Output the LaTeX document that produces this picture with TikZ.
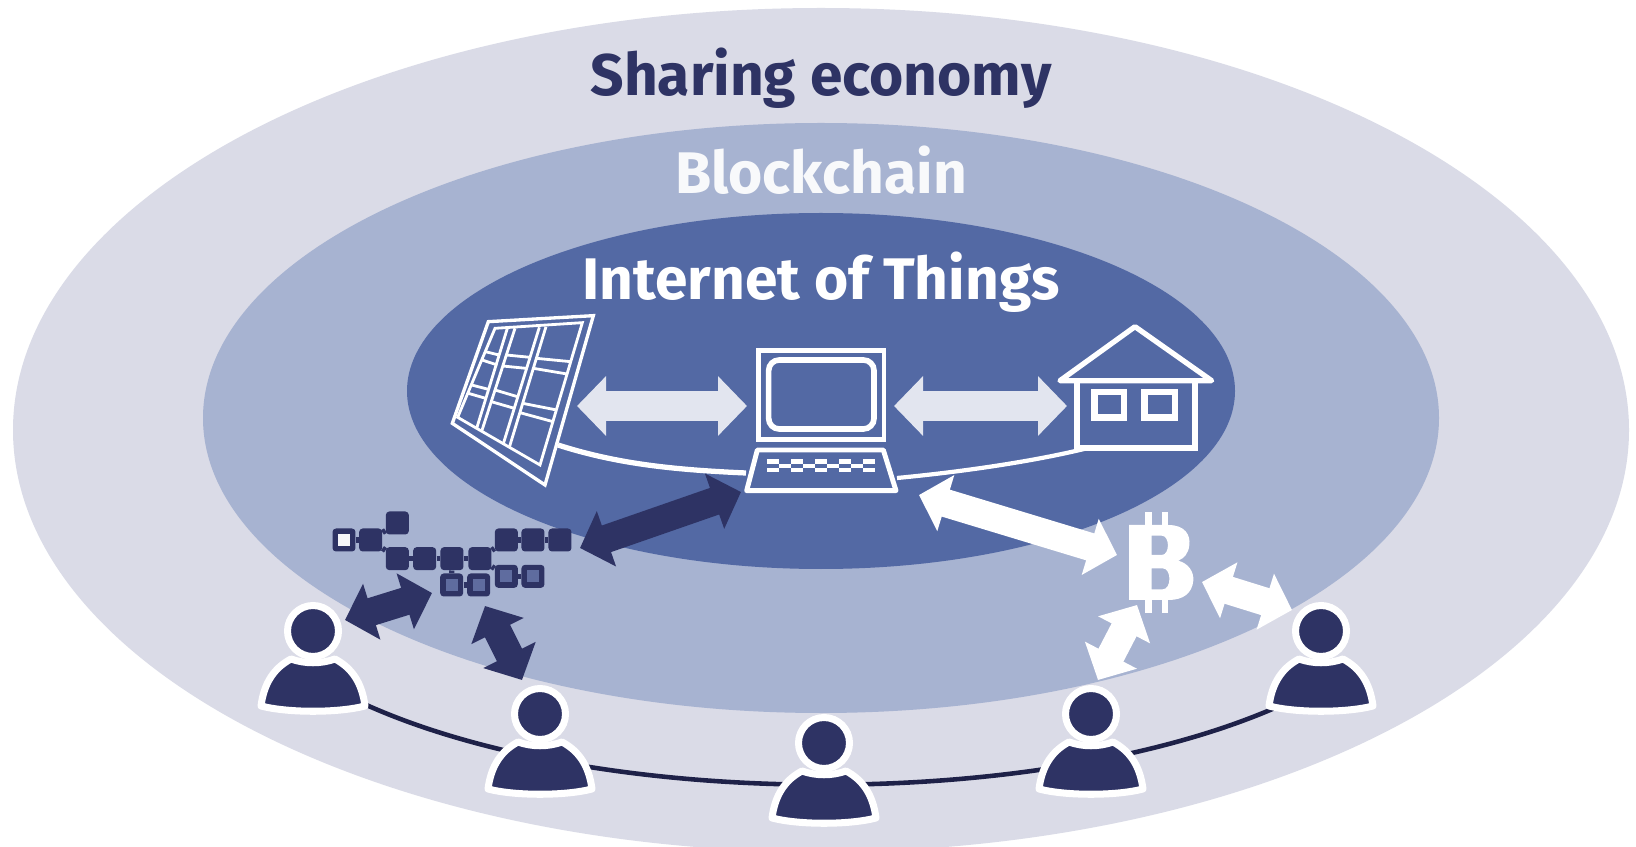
\documentclass[tikz,border=0pt]{standalone}
\usepackage{fontspec}
\setmainfont{Fira Sans}
\usetikzlibrary{arrows.meta}
\definecolor{outerc}{HTML}{DADBE7}
\definecolor{midc}{HTML}{A7B3D1}
\definecolor{innerc}{HTML}{5369A4}
\definecolor{navy}{HTML}{2E3364}
\definecolor{ringc}{HTML}{1E2148}
\definecolor{pale}{HTML}{E2E5EF}
\definecolor{corec}{HTML}{5F6C9F}
\tikzset{
  zoomed/.style={x=0.006667cm,y=-0.006667cm},
  title/.style={font=\fontsize{33.4}{36}\selectfont\bfseries,inner sep=0,anchor=base},
  wire/.style={draw=white,line width=2.4pt},
  cell/.style={draw=white,line width=1.6pt,line join=miter},
  pcline/.style={draw=white,line width=2.8pt,line join=miter},
  hsline/.style={draw=white,line width=3.6pt,line join=miter},
  bigarrow/.style={line width=17pt,draw=pale,
    {Triangle[length=0.58cm,width=1.16cm]}-{Triangle[length=0.58cm,width=1.16cm]}},
  darkarrow/.style={line width=16pt,draw=navy,
    {Triangle[length=0.56cm,width=1.14cm]}-{Triangle[length=0.56cm,width=1.14cm]}},
  whitearrow/.style={line width=16pt,draw=white,
    {Triangle[length=0.56cm,width=1.14cm]}-{Triangle[length=0.56cm,width=1.14cm]}},
  chainblock/.style={rectangle,rounded corners=2pt,fill=navy,inner sep=0,minimum width=0.46cm,minimum height=0.46cm},
  blockcore/.style={rectangle,inner sep=0,minimum size=0.24cm},
  chainlink/.style={draw=navy,line width=3pt},
  headdot/.style={circle,fill=navy,draw=white,line width=4pt,inner sep=0,minimum size=1.02cm},
  person/.pic={
    \draw[fill=navy,draw=white,line width=4pt,line join=round]
      (-52,75) .. controls (-49,52) and (-39,37) .. (-22,28)
      .. controls (-8,33) and (8,33) .. (22,28)
      .. controls (39,37) and (49,52) .. (52,75)
      .. controls (25,82) and (-25,82) .. (-52,75) -- cycle;
    \node[headdot] (-head) at (0,0) {};
  }
}
\begin{document}
\begin{tikzpicture}[x=0.02cm,y=-0.02cm]
\useasboundingbox (0,0) rectangle (1636,847);
\fill[white] (0,0) rectangle (1636,847);
\fill[outerc] (821,430) ellipse [x radius=808,y radius=422];
\fill[midc] (821,418) ellipse [x radius=618,y radius=295];
\fill[innerc] (821,391) ellipse [x radius=414,y radius=178];

\node[title,text=navy] (t1) at (821,96) {Sharing economy};
\node[title,text=white!92!midc] (t2) at (821,194) {Blockchain};
\node[title,text=white] (t3) at (821,300) {Internet of Things};

% anchors for connectors
\coordinate (panelWire) at (558,445);
\coordinate (pcWireL) at (746,473);
\coordinate (pcWireR) at (897,478);
\coordinate (houseWire) at (1084,449);
\coordinate (a1a) at (577,406); \coordinate (a1b) at (747,406);
\coordinate (a2a) at (894,406); \coordinate (a2b) at (1067,406);
\coordinate (a3a) at (580,548); \coordinate (a3b) at (741,492);
\coordinate (a4a) at (919,495); \coordinate (a4b) at (1117,555);
\coordinate (a5a) at (345,620); \coordinate (a5b) at (432,593);
\coordinate (a6a) at (485,606); \coordinate (a6b) at (522,680);
\coordinate (a7a) at (1137,605); \coordinate (a7b) at (1098,680);
\coordinate (a8a) at (1202,582); \coordinate (a8b) at (1292,610);
\coordinate (ringL) at (362,703);
\coordinate (ringR) at (1286,703);

\draw[wire,line width=3pt] (panelWire) .. controls (620,465) and (680,470) .. (pcWireL);
\draw[wire] (pcWireR) .. controls (960,472) and (1030,462) .. (houseWire);
\draw[draw=ringc,line width=2.6pt] (ringL) .. controls (600,812) and (1048,812) .. (ringR);

% solar panel
\begin{scope}[shift={(420,300)},zoomed]
\draw[cell,line width=1.9pt] (205,65) -- (520,47) -- (375,555) -- (97,370) -- cycle;
\draw[cell] (225,85) -- (487,68) -- (360,495) -- (113,352) -- cycle;
\draw[cell] (262,85) -- (170,385);
\draw[cell] (285,85) -- (185,394);
\draw[cell] (358,82) -- (250,431);
\draw[cell] (378,80) -- (268,442);
\draw[cell] (196,155) -- (237,165);
\draw[cell] (186,180) -- (232,195);
\draw[cell] (155,255) -- (205,268);
\draw[cell] (145,280) -- (197,295);
\draw[cell] (259,165) -- (330,172);
\draw[cell] (248,198) -- (318,205);
\draw[cell] (225,270) -- (292,290);
\draw[cell] (214,305) -- (283,325);
\draw[cell] (349,175) -- (452,185);
\draw[cell] (340,205) -- (441,222);
\draw[cell] (308,310) -- (410,330);
\draw[cell] (300,338) -- (399,365);
\end{scope}

% computer and house
\begin{scope}[shift={(720,310)},zoomed]
\draw[pcline] (115,122) rectangle (492,388);
\draw[pcline,line width=3.2pt,rounded corners=6pt] (146,150) rectangle (462,357);
\draw[pcline,line join=round] (112,420) -- (490,420) -- (528,542) -- (80,542) -- cycle;
\foreach \k in {140,212,284,356,428}{
  \fill[white] (\k,447) rectangle ++(37,14);
  \fill[white] (\k,473) rectangle ++(37,14);
}
\foreach \k in {177,249,321,393}{
  \fill[white] (\k,461) rectangle ++(35,12);
}
\draw[pcline,line width=3pt,line join=round] (1020,212) -- (1245,50) -- (1475,212) -- cycle;
\draw[hsline] (1072,212) -- (1072,415) -- (1425,415) -- (1425,212);
\draw[hsline] (1124,246) rectangle (1213,323);
\draw[hsline] (1274,246) rectangle (1366,323);
\end{scope}

% block arrows
\draw[bigarrow] (a1a) -- (a1b);
\draw[bigarrow] (a2a) -- (a2b);
\draw[darkarrow] (a3a) -- (a3b);
\draw[whitearrow] (a4a) -- (a4b);
\draw[darkarrow] (a5a) -- (a5b);
\draw[darkarrow] (a6a) -- (a6b);
\draw[whitearrow] (a7a) -- (a7b);
\draw[whitearrow] (a8a) -- (a8b);

% blockchain
\begin{scope}[shift={(250,490)},zoomed]
\node[chainblock] (b0) at (282,150) {};
\node[chainblock] (b1) at (362,150) {};
\node[chainblock] (b2) at (442,99) {};
\node[chainblock] (c1) at (442,206) {};
\node[chainblock] (c2) at (524,206) {};
\node[chainblock] (c3) at (606,206) {};
\node[chainblock] (c4) at (690,206) {};
\node[chainblock] (d1) at (769,150) {};
\node[chainblock] (d2) at (849,150) {};
\node[chainblock] (d3) at (930,150) {};
\node[chainblock] (e1) at (605,285) {};
\node[chainblock] (e2) at (686,285) {};
\node[chainblock] (f1) at (769,259) {};
\node[chainblock] (f2) at (849,259) {};
\node[blockcore,fill=white!90!midc] at (b0) {};
\node[blockcore,fill=corec] at (e1) {};
\node[blockcore,fill=corec] at (e2) {};
\node[blockcore,fill=corec] at (f1) {};
\node[blockcore,fill=corec] at (f2) {};
\draw[chainlink] (b0) -- (b1);
\draw[chainlink] (b1) -- (b2);
\draw[chainlink] (b1) -- (c1);
\draw[chainlink] (c1) -- (c2);
\draw[chainlink] (c2) -- (c3);
\draw[chainlink] (c3) -- (c4);
\draw[chainlink] (c4) -- (d1);
\draw[chainlink] (d1) -- (d2);
\draw[chainlink] (d2) -- (d3);
\draw[chainlink] (c3) -- (e1);
\draw[chainlink] (e1) -- (e2);
\draw[chainlink] (c4) -- (f1);
\draw[chainlink] (f1) -- (f2);
\end{scope}

% bitcoin sign
\begin{scope}[shift={(1030,490)},zoomed]
\fill[white,even odd rule]
  (297,105) -- (415,105) .. controls (465,105) and (482,135) .. (478,165)
  .. controls (476,190) and (462,205) .. (445,212)
  .. controls (475,220) and (492,245) .. (490,272)
  .. controls (486,310) and (460,330) .. (415,330) -- (297,330) -- cycle
  (365,137) -- (365,195) -- (395,195) .. controls (420,195) and (420,137) .. (395,137) -- cycle
  (365,235) -- (365,298) -- (398,298) .. controls (425,298) and (425,235) .. (398,235) -- cycle;
\fill[white] (345,65) rectangle (365,105);
\fill[white] (395,65) rectangle (415,105);
\fill[white] (345,330) rectangle (365,368);
\fill[white] (395,330) rectangle (415,368);
\end{scope}

% people
\pic (p1) at (313,631) {person};
\pic (p2) at (540,714) {person};
\pic (p3) at (824,743) {person};
\pic (p4) at (1091,714) {person};
\pic (p5) at (1321,631) {person};
\end{tikzpicture}
\end{document}
